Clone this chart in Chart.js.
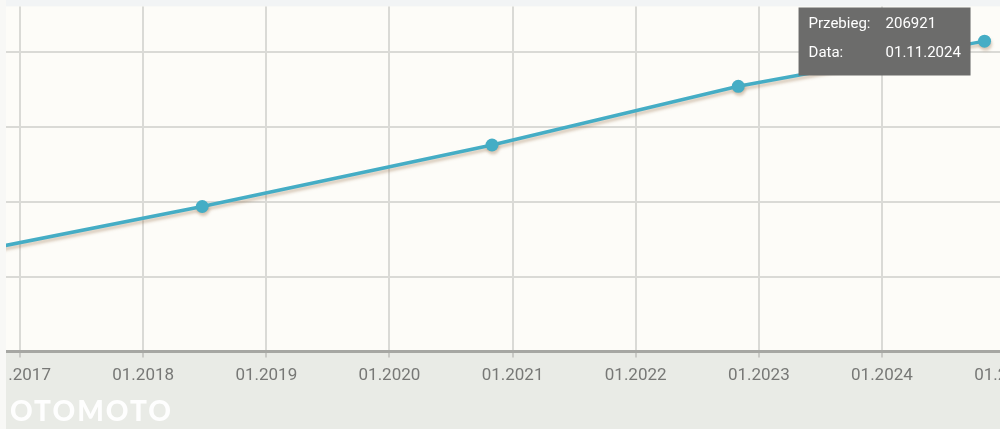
<!DOCTYPE html>
<html>
<head>
<meta charset="utf-8">
<script src="https://cdn.jsdelivr.net/npm/chart.js@4.4.1/dist/chart.umd.min.js"></script>
<style>
  html, body { margin: 0; padding: 0; width: 1000px; height: 429px; overflow: hidden; background: #f8f8f6; }
  #wrap { position: absolute; left: 6px; top: 0; width: 994px; height: 429px; overflow: hidden; }
  #mileageChart { position: absolute; left: -40px; top: 0; }
  #logo { position: absolute; left: 10px; top: 393px; color: rgba(255,255,255,0.95); font: 900 28px Lato, sans-serif; letter-spacing: 2px; }
</style>
</head>
<body>
<div id="wrap"><canvas id="mileageChart" width="1116" height="429" style="width:1116px;height:429px"></canvas></div>
<div id="logo">OTOMOTO</div>
<script>
// przebieg pojazdu (km) wg daty odczytu
const DATES = ['01.11.2015', '24.06.2018', '01.11.2020', '01.11.2022', '01.11.2024'];
const MILEAGE = [53700, 96700, 137700, 176800, 206921];
const YEARS = [2017, 2018, 2019, 2020, 2021, 2022, 2023, 2024, 2025];
const Y_TICKS = [0, 50000, 100000, 150000, 200000];

const LINE_COLOR = '#45adc5';
const GRID_COLOR = '#dadad6';

function toYear(d) {
    const [day, month, year] = d.split('.').map(Number);
    return year + (month - 1) / 12 + (day - 1) / 365;
}

const points = DATES.map((d, i) => ({ x: toYear(d), y: MILEAGE[i] }));

const backgrounds = {
    id: 'backgrounds',
    beforeDraw(chart) {
        const { ctx, chartArea: a, width, height } = chart;
        ctx.save();
        ctx.fillStyle = '#f2f4f5';
        ctx.fillRect(0, 0, width, a.top);
        ctx.fillStyle = '#fdfcf8';
        ctx.fillRect(a.left, a.top, width - a.left, a.bottom - a.top);
        ctx.fillStyle = '#e9ebe6';
        ctx.fillRect(0, a.bottom, width, height - a.bottom);
        ctx.restore();
    }
};

const lineShadow = {
    id: 'lineShadow',
    beforeDatasetDraw(chart) {
        const ctx = chart.ctx;
        ctx.save();
        ctx.shadowColor = 'rgba(150, 110, 70, 0.35)';
        ctx.shadowOffsetX = 1;
        ctx.shadowOffsetY = 3;
        ctx.shadowBlur = 3;
    },
    afterDatasetDraw(chart) {
        chart.ctx.restore();
    }
};

// marker z przebiegiem ostatniego odczytu
const marker = {
    id: 'marker',
    afterDraw(chart) {
        const { ctx, chartArea: a } = chart;
        const last = MILEAGE.length - 1;
        const el = chart.getDatasetMeta(0).data[last];
        const w = 172, h = 68;
        const x = el.x - 14 - w, y = a.top + 1;
        ctx.save();
        ctx.fillStyle = '#6c6c6b';
        ctx.fillRect(x, y, w, h);
        ctx.fillStyle = '#ffffff';
        ctx.font = '15px Roboto';
        ctx.textBaseline = 'middle';
        ctx.fillText('Przebieg:', x + 10, y + 17);
        ctx.fillText(String(MILEAGE[last]), x + 87, y + 17);
        ctx.fillText('Data:', x + 10, y + 46);
        ctx.fillText(DATES[last], x + 87, y + 46);
        ctx.restore();
    }
};

new Chart(document.getElementById('mileageChart'), {
    type: 'line',
    data: {
        datasets: [{
            data: points,
            borderColor: LINE_COLOR,
            backgroundColor: LINE_COLOR,
            borderWidth: 3.5,
            pointRadius: 6.5,
            pointBorderWidth: 0,
            tension: 0,
            fill: false
        }]
    },
    options: {
        responsive: false,
        animation: false,
        devicePixelRatio: 1,
        layout: { padding: { left: 40, right: 40, top: 5, bottom: 35 } },
        plugins: { legend: { display: false }, tooltip: { enabled: false } },
        scales: {
            x: {
                type: 'linear',
                min: 2016.886,
                max: 2025.3,
                afterBuildTicks: axis => { axis.ticks = YEARS.map(v => ({ value: v })); },
                grid: { color: GRID_COLOR, lineWidth: 2, tickLength: 6, tickColor: '#c9cac6' },
                border: { display: true, color: '#a6a7a3', width: 3 },
                ticks: {
                    maxRotation: 0,
                    autoSkip: false,
                    padding: 8,
                    color: '#777876',
                    font: { family: 'Roboto', size: 17 },
                    callback: v => '01.' + v
                }
            },
            y: {
                min: 0,
                max: 230000,
                afterBuildTicks: axis => { axis.ticks = Y_TICKS.map(v => ({ value: v })); },
                grid: { color: GRID_COLOR, lineWidth: 2, drawTicks: false },
                border: { display: false },
                ticks: { display: false }
            }
        }
    },
    plugins: [backgrounds, lineShadow, marker]
});
</script>
</body>
</html>
